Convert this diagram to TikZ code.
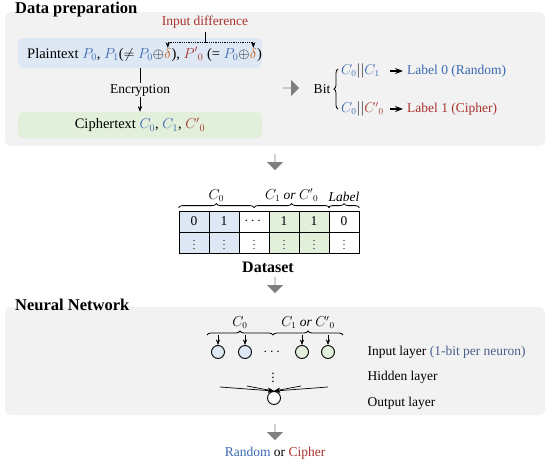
\documentclass[tikz,border=0pt]{standalone}
\usepackage{amsmath,amssymb}
\usepackage{fontspec}
\setmainfont{Liberation Serif}
\usepackage{xcolor}
\usepackage{tikz}
\usetikzlibrary{arrows.meta,shapes.arrows,decorations.pathreplacing,positioning,calc}

\definecolor{panelgray}{HTML}{F2F2F2}
\definecolor{arrowgray}{HTML}{7F7F7F}
\definecolor{boxblue}{HTML}{DEE7F4}
\definecolor{boxgreen}{HTML}{E2EFDA}
\definecolor{cblue}{HTML}{3A67B0}
\definecolor{cred}{HTML}{A8322D}
\definecolor{corange}{HTML}{C55A11}
\definecolor{cslate}{HTML}{4A5F8A}

\begin{document}
\begin{tikzpicture}[x=1pt,y=-1pt,
		panel/.style={fill=panelgray, rounded corners=6pt},
		title/.style={font=\fontsize{16.5}{18}\selectfont\bfseries, anchor=west, inner sep=0pt},
		txt/.style={font=\fontsize{13.5}{15}\selectfont},
		bigtxt/.style={font=\fontsize{14.5}{16}\selectfont},
		piece/.style={bigtxt, anchor=base west, inner sep=0pt},
		tbox/.style={rounded corners=5pt, minimum width=244pt, bigtxt},
		bigarrow/.style={single arrow, fill=arrowgray, draw=none, inner sep=0pt, minimum height=16pt, minimum width=16pt, single arrow head extend=4pt},
		cell/.style={draw, line width=0.8pt, minimum width=30pt, minimum height=21pt, inner sep=0pt, txt},
		neuron/.style={draw, circle, line width=0.9pt, minimum size=13pt, inner sep=0pt},
		hbrace/.style={decorate, decoration={brace, amplitude=4pt}, line width=0.8pt}
	]
		\useasboundingbox (0,0) rectangle (550,464);

		% data preparation
		\fill[panel] (5,12) rectangle (545,146);
		\node[title] (tprep) at (15,10) {Data preparation};

		\node[tbox, fill=boxblue, minimum height=30pt] (pbox) at (140,53) {};
		\node[piece] (pa) at (27,58) {Plaintext \textcolor{cblue}{$P_0$}, \textcolor{cblue}{$P_1$}($\neq$ \textcolor{cblue}{$P_0$}$\oplus$};
		\node[piece, text=corange] (da) at (pa.base east) {$\delta$};
		\node[piece] (pb) at (da.base east) {), \textcolor{cred}{${P'}_0$} (= \textcolor{cblue}{$P_0$}$\oplus$};
		\node[piece, text=corange] (db) at (pb.base east) {$\delta$};
		\node[piece] (pc) at (db.base east) {)};

		\node[txt, text=cred] (diff) at (205,22) {Input difference};
		\coordinate (j1) at ($(da.north)+(0,-5)$);
		\coordinate (j2) at ($(db.north)+(0,-5)$);
		\draw[densely dotted, line width=0.8pt] (j1) -- (j2);
		\draw[line width=0.6pt] (diff.south) -- (diff.south |- j1);
		\draw[-{Stealth}, line width=0.6pt] (j1) -- (da.north);
		\draw[-{Stealth}, line width=0.6pt] (j2) -- (db.north);

		\node[tbox, fill=boxgreen, minimum height=26pt] (cbox) at (140,125) {Ciphertext \textcolor{cblue}{$C_0$}, \textcolor{cblue}{$C_1$}, \textcolor{cred}{${C'}_0$}};
		\draw[-{Stealth}, line width=0.6pt] (pbox) -- node[txt, fill=panelgray, inner sep=1pt] (enc) {Encryption} (cbox);

		\node[bigarrow] (arb) at (291,88) {};
		\node[txt] (bit) at (322,89) {Bit};
		\coordinate (bl) at (338,109);
		\coordinate (bu) at (338,69);
		\draw[hbrace] (bl) -- (bu);
		\node[txt, anchor=west, inner sep=1pt] (c01) at (340,71) {\textcolor{cblue}{$C_0$}$||$\textcolor{cblue}{$C_1$}};
		\node[txt, anchor=west, inner sep=1pt, text=cblue] (lab0) at (406,71) {Label 0 (Random)};
		\node[txt, anchor=west, inner sep=1pt] (c02) at (340,109) {\textcolor{cblue}{$C_0$}$||$\textcolor{cred}{${C'}_0$}};
		\node[txt, anchor=west, inner sep=1pt, text=cred] (lab1) at (406,109) {Label 1 (Cipher)};
		\draw[-{Stealth}, line width=1.1pt] ([xshift=-16pt]lab0.west) -- ([xshift=-3pt]lab0.west);
		\draw[-{Stealth}, line width=1.1pt] ([xshift=-16pt]lab1.west) -- ([xshift=-3pt]lab1.west);

		\node[bigarrow, shape border rotate=270] (ar1) at (275,162) {};

		% dataset
		\foreach \i/\v/\c in {0/0/boxblue, 1/1/boxblue, 2/{$\cdots$}/white, 3/1/boxgreen, 4/1/boxgreen, 5/0/white} {
			\node[cell, fill=\c] (ra\i) at ({194+30*\i},221.5) {\v};
			\node[cell, fill=\c, font=\fontsize{10}{11}\selectfont] (rb\i) at ({194+30*\i},242.5) {$\vdots$};
		}
		\draw[hbrace] ([yshift=3pt]ra0.north west) -- ([yshift=3pt]ra2.north) node[midway, above=6pt, txt, inner sep=0pt] (hc0) {$C_0$};
		\draw[hbrace] ([yshift=3pt]ra2.north) -- ([yshift=3pt]ra4.north east) node[midway, above=6pt, txt, inner sep=0pt] (hc1) {$C_1$ \textit{or} ${C'}_0$};
		\draw[hbrace] ([yshift=3pt]ra5.north west) -- ([yshift=3pt]ra5.north east) node[midway, above=6pt, txt, inner sep=0pt] (hlab) {\textit{Label}};
		\node[font=\fontsize{16}{18}\selectfont\bfseries] (dset) at (268,267) {Dataset};

		\node[bigarrow, shape border rotate=270] (ar2) at (275,285) {};

		% neural network
		\fill[panel] (5,307) rectangle (545,415);
		\node[title] (tnn) at (15,305) {Neural Network};

		\foreach \x/\c/\n in {218/boxblue/1, 245/boxblue/2, 302/boxgreen/3, 328/boxgreen/4} {
			\node[neuron, fill=\c] (n\n) at (\x,352) {};
			\draw[-{Stealth}, line width=0.6pt] ([yshift=10pt]n\n.north) -- (n\n.north);
		}
		\node[txt] (ndots) at (273,352) {$\cdots$};
		\coordinate (b0) at (207,335);
		\coordinate (b1) at (273,335);
		\coordinate (b2) at (343,335);
		\draw[hbrace] (b0) -- (b1) node[midway, above=6pt, txt, inner sep=0pt] (nc0) {$C_0$};
		\draw[hbrace] (b1) -- (b2) node[midway, above=6pt, txt, inner sep=0pt] (nc1) {$C_1$ \textit{or} ${C'}_0$};

		\node[txt] (vdots) at (273,375) {$\vdots$};
		\node[neuron, fill=white] (out) at (274,398) {};
		\coordinate (h1) at (220,387);
		\coordinate (h2) at (247,386);
		\coordinate (h3) at (301,386);
		\coordinate (h4) at (328,387);
		\foreach \h in {h1,h2,h3,h4}
			\draw[-{Stealth}, line width=0.7pt] (\h) -- (out.north);

		\node[txt, anchor=west] (linput) at (364,352) {Input layer \textcolor{cslate}{(1-bit per neuron)}};
		\node[txt, anchor=west] (lhidden) at (364,377) {Hidden layer};
		\node[txt, anchor=west] (loutput) at (364,403) {Output layer};

		\node[bigarrow, shape border rotate=270] (ar3) at (275,432) {};
		\node[txt] (res) at (275,453) {\textcolor{cblue}{Random} or \textcolor{cred}{Cipher}};
	\end{tikzpicture}
\end{document}
